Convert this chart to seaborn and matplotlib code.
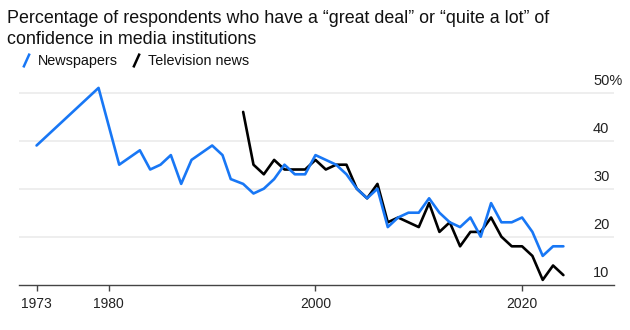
import matplotlib
matplotlib.use("Agg")
import matplotlib.pyplot as plt
import matplotlib.transforms as mtransforms
from matplotlib.lines import Line2D
from matplotlib.path import Path
import pandas as pd
import seaborn as sns

# ---- data ----
news_years = [1973, 1979, 1981, 1983, 1984, 1985, 1986, 1987, 1988, 1990, 1991, 1991.8,
              1993, 1994, 1995, 1996, 1997, 1998, 1999, 2000, 2001, 2002, 2003, 2004,
              2005, 2006, 2007, 2008, 2009, 2010, 2011, 2012, 2013, 2014, 2015, 2016,
              2017, 2018, 2019, 2020, 2021, 2022, 2023, 2024]
news_vals = [39, 51, 35, 38, 34, 35, 37, 31, 36, 39, 37, 32,
             31, 29, 30, 32, 35, 33, 33, 37, 36, 35, 33, 30,
             28, 30, 22, 24, 25, 25, 28, 25, 23, 22, 24, 20,
             27, 23, 23, 24, 21, 16, 18, 18]
tv_years = [1993, 1994, 1995, 1996, 1997, 1998, 1999, 2000, 2001, 2002, 2003, 2004,
            2005, 2006, 2007, 2008, 2009, 2010, 2011, 2012, 2013, 2014, 2015, 2016,
            2017, 2018, 2019, 2020, 2021, 2022, 2023, 2024]
tv_vals = [46, 35, 33, 36, 34, 34, 34, 36, 34, 35, 35, 30,
           28, 31, 23, 24, 23, 22, 27, 21, 23, 18, 21, 21,
           24, 20, 18, 18, 16, 11, 14, 12]
series_names = ["Newspapers", "Television news"]
x_ticks = [1973, 1980, 2000, 2020]
y_ticks = [10, 20, 30, 40, 50]
y_labels = ["10", "20", "30", "40", "50%"]
title = "Percentage of respondents who have a \u201cgreat deal\u201d or \u201cquite a lot\u201d of\nconfidence in media institutions"

colors = {"Newspapers": "#1877f5", "Television news": "#000000"}

df = pd.concat([
    pd.DataFrame({"year": news_years, "value": news_vals, "series": series_names[0]}),
    pd.DataFrame({"year": tv_years, "value": tv_vals, "series": series_names[1]}),
])

sns.set_theme(style="white")
plt.rcParams["font.family"] = ["Liberation Sans", "DejaVu Sans"]

fig = plt.figure(figsize=(6.3, 3.3), dpi=100)
ax = fig.add_axes([19 / 630, (330 - 284.7) / 330, (614 - 19) / 630, (284.7 - 80.7) / 330])

# grid lines
for v in y_ticks[1:]:
    ax.axhline(v, color="#ebebeb", lw=1.2, zorder=0)

sns.lineplot(data=df, x="year", y="value", hue="series",
             hue_order=["Television news", "Newspapers"],
             palette=colors, linewidth=1.9, legend=False, ax=ax, sort=False)

ax.set_xlim(1971.3, 2028.9)
ax.set_ylim(10, 52.5)
ax.set_xlabel("")
ax.set_ylabel("")
for s in ["top", "right", "left"]:
    ax.spines[s].set_visible(False)
ax.spines["bottom"].set_color("#444444")
ax.spines["bottom"].set_linewidth(1.0)
ax.spines["bottom"].set_zorder(5)

ax.set_xticks(x_ticks)
ax.set_xticklabels([str(t) for t in x_ticks])
ax.tick_params(axis="x", bottom=True, length=4.5, width=1.0, color="#444444",
               labelsize=10, labelcolor="#222222", pad=4)
ax.set_yticks([])

# y labels above gridlines, on the right
offset = mtransforms.ScaledTranslation(0, 3.5 / 72, fig.dpi_scale_trans)
trans = mtransforms.blended_transform_factory(ax.transAxes, ax.transData) + offset
for v, lab in zip(y_ticks, y_labels):
    ax.text((593 - 19) / (614 - 19), v, lab, transform=trans, ha="left", va="bottom",
            fontsize=10.5, color="#222222")

# title
fig.text(7 / 630, 1 - 10 / 330, title, ha="left", va="top", fontsize=12.9,
         color="#111111", linespacing=1.3)

# legend with slash markers
slash = Path([(-0.45, -1.0), (0.45, 1.0)], [Path.MOVETO, Path.LINETO])
handles = [Line2D([], [], color=colors[n], linestyle="none", marker=slash,
                  markersize=10, markeredgewidth=1.8, markeredgecolor=colors[n])
           for n in series_names]
fig.legend(handles, series_names, loc="center left", bbox_to_anchor=(13 / 630, 1 - 61 / 330),
           ncol=2, frameon=False, fontsize=10.4, handlelength=0.8, handletextpad=0.4,
           columnspacing=0.9, borderpad=0, labelcolor="#111111")

fig.savefig("out.png", dpi=100)
